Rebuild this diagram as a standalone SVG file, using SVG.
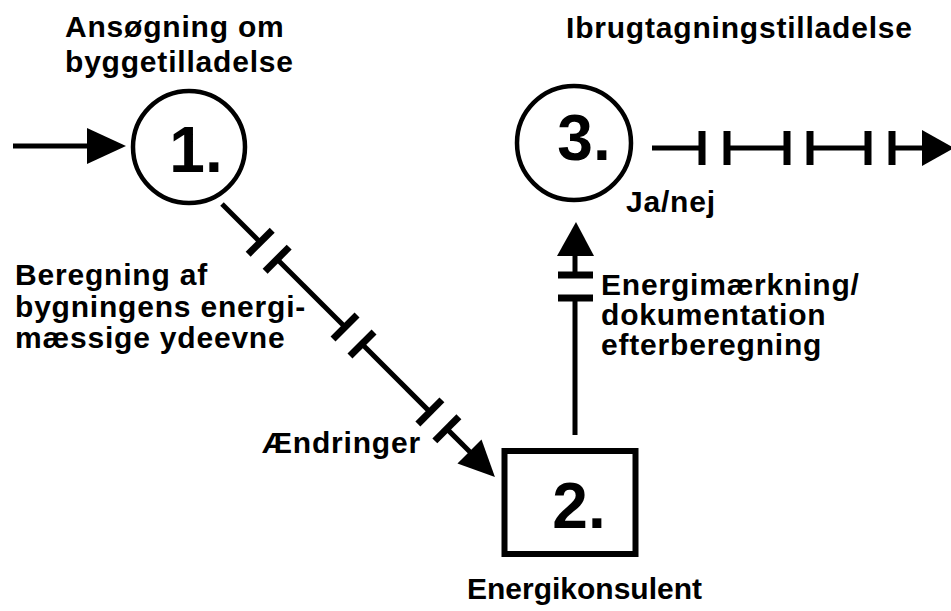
<svg xmlns="http://www.w3.org/2000/svg" width="951" height="611" viewBox="0 0 951 611">
  <style>
    .txt { font-family: "Liberation Sans", Arial, sans-serif; font-weight: bold; font-size: 30px; letter-spacing: 0.8px; fill: #000; }
    .tight { letter-spacing: 0px; }
    .num { font-family: "Liberation Sans", Arial, sans-serif; font-weight: bold; font-size: 64px; fill: #000; text-anchor: middle; }
    .ring { fill: #fff; stroke: #000; stroke-width: 4.5; }
    .box { fill: #fff; stroke: #000; stroke-width: 6; }
    .ln { stroke: #000; stroke-width: 5; fill: none; }
    .tick { stroke: #000; stroke-width: 7; fill: none; }
    .head { fill: #000; stroke: none; }
  </style>

  <rect width="951" height="611" fill="#fff"/>

  <!-- connectors -->
  <g id="connectors">
    <!-- incoming arrow to step 1 -->
    <g id="c-in">
      <line class="ln" x1="13" y1="146" x2="92" y2="146"/>
      <polygon class="head" points="87,128 126,146 87,164"/>
    </g>

    <!-- step 1 to step 2: diagonal with paired break ticks -->
    <g id="c-1-2" transform="translate(222,204) rotate(45)">
      <line class="ln" x1="0" y1="0" x2="54" y2="0"/>
      <line class="tick" x1="54" y1="-17" x2="54" y2="17"/>
      <line class="tick" x1="78" y1="-17" x2="78" y2="17"/>
      <line class="ln" x1="78" y1="0" x2="174" y2="0"/>
      <line class="tick" x1="174" y1="-17" x2="174" y2="17"/>
      <line class="tick" x1="198" y1="-17" x2="198" y2="17"/>
      <line class="ln" x1="198" y1="0" x2="294" y2="0"/>
      <line class="tick" x1="294" y1="-17" x2="294" y2="17"/>
      <line class="tick" x1="318" y1="-17" x2="318" y2="17"/>
      <line class="ln" x1="318" y1="0" x2="354" y2="0"/>
      <polygon class="head" points="350,-17 386,0 350,17"/>
    </g>

    <!-- step 2 to step 3: vertical with break ticks -->
    <g id="c-2-3">
      <line class="ln" x1="575" y1="435" x2="575" y2="298"/>
      <line class="tick" x1="558" y1="298" x2="593" y2="298"/>
      <line class="tick" x1="558" y1="275" x2="593" y2="275"/>
      <line class="ln" x1="575" y1="275" x2="575" y2="252"/>
      <polygon class="head" points="557,256 576,222 594,256"/>
    </g>

    <!-- outgoing from step 3: horizontal with break ticks -->
    <g id="c-out">
      <line class="ln" x1="652" y1="148" x2="702" y2="148"/>
      <line class="tick" x1="702" y1="131" x2="702" y2="165"/>
      <line class="tick" x1="727" y1="131" x2="727" y2="165"/>
      <line class="ln" x1="727" y1="148" x2="787" y2="148"/>
      <line class="tick" x1="787" y1="131" x2="787" y2="165"/>
      <line class="tick" x1="810" y1="131" x2="810" y2="165"/>
      <line class="ln" x1="810" y1="148" x2="868" y2="148"/>
      <line class="tick" x1="868" y1="131" x2="868" y2="165"/>
      <line class="tick" x1="892" y1="131" x2="892" y2="165"/>
      <line class="ln" x1="892" y1="148" x2="926" y2="148"/>
      <polygon class="head" points="922,130 954,148 922,166"/>
    </g>
  </g>

  <!-- step 1: building permit application -->
  <g id="n1">
    <circle class="ring" cx="189" cy="147" r="56"/>
    <text class="num" x="196" y="172">1.</text>
  </g>

  <!-- step 2: energy consultant -->
  <g id="n2">
    <rect class="box" x="504.5" y="451" width="131" height="103"/>
    <text class="num" x="579" y="528">2.</text>
  </g>

  <!-- step 3: occupancy permit -->
  <g id="n3">
    <circle class="ring" cx="574" cy="143" r="57"/>
    <text class="num" x="584" y="160">3.</text>
  </g>

  <!-- labels -->
  <g id="labels">
    <text class="txt" x="65" y="37">Ansøgning om</text>
    <text class="txt" x="65" y="72">byggetilladelse</text>
    <text class="txt" x="566" y="38">Ibrugtagningstilladelse</text>
    <text class="txt" x="626" y="212">Ja/nej</text>
    <text class="txt" x="15" y="285">Beregning af</text>
    <text class="txt" x="15" y="317">bygningens energi-</text>
    <text class="txt" x="15" y="348">mæssige ydeevne</text>
    <text class="txt" x="601" y="295">Energimærkning/</text>
    <text class="txt" x="601" y="325">dokumentation</text>
    <text class="txt" x="601" y="355">efterberegning</text>
    <text class="txt" x="262" y="453">Ændringer</text>
    <text class="txt tight" x="467" y="599">Energikonsulent</text>
  </g>
</svg>
